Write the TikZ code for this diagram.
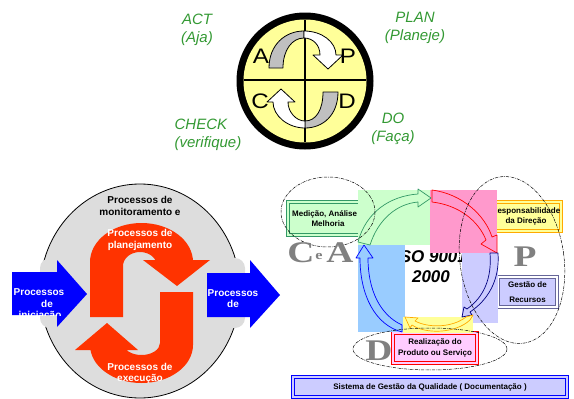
\documentclass[tikz,border=0pt]{standalone}
\usepackage{fontspec}
\setmainfont{Liberation Serif}
\setsansfont{Liberation Sans}
\usepackage{tikz}
\usetikzlibrary{positioning}
\definecolor{wheelyellow}{HTML}{FFFF99}
\definecolor{ribbongray}{HTML}{C0C0C0}
\definecolor{phasegreen}{HTML}{339933}
\definecolor{monigray}{HTML}{DDDDDD}
\definecolor{cyclered}{HTML}{FF3300}
\definecolor{procblue}{HTML}{0000FF}
\definecolor{isogreen}{HTML}{CCFFCC}
\definecolor{isopink}{HTML}{FF99CC}
\definecolor{isoblue}{HTML}{99CCFF}
\definecolor{isolav}{HTML}{CCCCFF}
\definecolor{isoyellow}{HTML}{FFFF99}
\definecolor{boxpink}{HTML}{FFCCFF}
\definecolor{lettergray}{HTML}{808080}
\definecolor{linegreen}{HTML}{339966}
\definecolor{linenavy}{HTML}{000080}
\definecolor{lineorange}{HTML}{FFAA00}
\definecolor{linepurple}{HTML}{666699}
\tikzset{
  phaselbl/.style={text=phasegreen, font=\sffamily\itshape\fontsize{15}{18}\selectfont, align=center, inner sep=0pt},
  wheelletter/.style={font=\sffamily\fontsize{21}{21}\selectfont, inner sep=0pt, xscale=1.15},
  ribbon/.style={draw=black, line width=0.8pt, line join=round},
  proctext/.style={text=white, font=\sffamily\bfseries\fontsize{10}{12}\selectfont, inner sep=0pt},
  isobox/.style={font=\sffamily\bfseries\fontsize{8}{10.5}\selectfont, align=center, inner sep=1pt, line width=1pt, double distance=1.5pt},
  isoarrow/.style={line width=0.7pt, line join=round},
  qletter/.style={text=lettergray, font=\rmfamily\bfseries\fontsize{30}{30}\selectfont, inner sep=0pt, xscale=1.25},
  dashdot/.style={line width=0.5pt, dash pattern=on 3pt off 1pt on 0.6pt off 1pt},
}

\begin{document}
\begin{tikzpicture}[x=1pt, y=-1pt]
  \useasboundingbox (0,0) rectangle (574,399);

  % PDCA wheel
  \fill[black] (305,81) circle[radius=68.5];
  \fill[wheelyellow] (305,81) circle[radius=61.5];
  \draw[line width=1.2pt] (305,20) -- (305,142) (244,80) -- (366,80);

  % ribbons of the wheel
  \filldraw[ribbon, fill=ribbongray] (269,68) .. controls (269,45) and (285,31) .. (304,31)
    -- (304,38) .. controls (292,38) and (283,50) .. (283,68) -- cycle;
  \filldraw[ribbon, fill=white] (304,31) .. controls (322,31) and (336,42) .. (336,55)
    -- (343,55) -- (328,69) -- (313,55) -- (320,55) .. controls (320,45) and (313,38) .. (304,38) -- cycle;
  \filldraw[ribbon, fill=ribbongray] (338,92) .. controls (338,115) and (323,128) .. (305,128)
    -- (305,121) .. controls (316,121) and (323,110) .. (323,92) -- cycle;
  \filldraw[ribbon, fill=white] (305,128) .. controls (288,128) and (273,116) .. (273,102)
    -- (267,102) -- (281,89) -- (295,102) -- (288,102) .. controls (288,112) and (296,121) .. (305,121) -- cycle;

  \node[wheelletter] (la) at (261,56) {A};
  \node[wheelletter] (lp) at (348,56) {P};
  \node[wheelletter] (lc) at (260,101) {C};
  \node[wheelletter] (ld) at (347,101) {D};

  % phase labels
  \node[phaselbl] (act) at (197,30) {ACT\\(Aja)};
  \node[phaselbl] (plan) at (415,28) {PLAN\\(Planeje)};
  \node[phaselbl, align=left] (check) at (208,135) {CHECK\\(verifique)};
  \node[phaselbl] (do) at (393,129) {DO\\(Faça)};

  % process groups
  \draw[fill=monigray, line width=0.8pt] (140,291) ellipse[x radius=100, y radius=107];
  \fill[monigray, rounded corners=10] (40,258) rectangle (75,328);
  \fill[monigray, rounded corners=10] (212,258) rectangle (245,328);

  \fill[cyclered] (90,317) -- (90,262) arc[start angle=180, end angle=360, x radius=51.5, y radius=39]
    -- (193,260) -- (210,260) -- (177,286) -- (143,260) -- (157,260) -- (157,266)
    arc[start angle=0, end angle=-180, x radius=17, y radius=14] -- (123,317) -- cycle;
  \fill[cyclered] (160,292) -- (193,292) -- (193,345) arc[start angle=0, end angle=180, x radius=51.5, y radius=38]
    -- (90,350) -- (75,350) -- (107,323) -- (138,350) -- (123,350) -- (123,343)
    arc[start angle=180, end angle=0, x radius=18.5, y radius=12] -- cycle;

  \fill[procblue] (12,272) -- (57,272) -- (57,260) -- (87,294) -- (57,327) -- (57,315) -- (12,315) -- cycle;
  \fill[procblue] (207,273) -- (250,273) -- (250,260) -- (280,295) -- (250,328) -- (250,317) -- (207,317) -- cycle;

  \node[proctext, text=black] (moni) at (140,200) {Processos de};
  \node[proctext, text=black] (moni2) at (140,212) {monitoramento e};
  \node[proctext] (plano) at (140,233) {Processos de};
  \node[proctext] (plano2) at (140,246) {planejamento};
  \begin{scope}
    \clip (60,355) rectangle (220,384);
    \node[proctext] (exec) at (140,367) {Processos de};
    \node[proctext] (exec2) at (140,379) {execução};
  \end{scope}
  \begin{scope}
    \clip (10,280) rectangle (90,315);
    \node[proctext] (ini) at (39,292) {Processos};
    \node[proctext] (ini2) at (47,304) {de};
    \node[proctext] (ini3) at (40,316) {iniciação};
  \end{scope}
  \node[proctext] (enc) at (233,293) {Processos};
  \node[proctext] (enc2) at (233,304) {de};

  % ISO 9001 model
  \node[isobox, draw=linegreen, double=isogreen, fill=isogreen, minimum width=80, minimum height=33] (medicao) at (328,218.5) {Medição, Análise e\\Melhoria};
  \node[isobox, draw=lineorange, double=isoyellow, fill=isoyellow, minimum width=69, minimum height=29] (resp) at (526,216.5) {Responsabilidade\\da Direção};
  \node[isobox, draw=linepurple, fill=isolav, minimum width=59, minimum height=30, font=\sffamily\bfseries\fontsize{8}{15}\selectfont] (gestao) at (527.5,292) {Gestão de\\Recursos};
  \node[isobox, draw=red, double=boxpink, fill=boxpink, minimum width=84, minimum height=30] (realiz) at (435,348) {Realização do\\Produto ou Serviço};
  \node[isobox, draw=procblue, double=isolav, fill=isolav, minimum width=274, minimum height=20] (sistema) at (430,387) {Sistema de Gestão da Qualidade ( Documentação )};

  \node[font=\sffamily\bfseries\itshape\fontsize{17}{20}\selectfont, align=center, inner sep=0pt] (iso) at (431,267) {ISO 9001\\2000};

  \fill[isogreen] (358,190) rectangle (430,245);
  \fill[isopink] (430,190) rectangle (497,253);
  \fill[isoblue] (358,245) rectangle (405,332);
  \fill[isolav] (462,253) rectangle (498,323);
  \fill[isoyellow] (403,317) rectangle (473,333);

  % cycle arrows
  \filldraw[isoarrow, draw=linegreen, fill=isogreen] (358,242) .. controls (366,212) and (390,196) .. (418,194)
    -- (418,189) -- (431,198) -- (418,207) -- (418,202) .. controls (396,204) and (378,220) .. (370,245) -- cycle;
  \filldraw[isoarrow, draw=red, fill=isopink] (432,190) .. controls (462,194) and (485,215) .. (492,237)
    -- (497,235) -- (497,253) -- (481,244) -- (486,240) .. controls (478,220) and (458,205) .. (432,202) -- cycle;
  \filldraw[isoarrow, draw=linenavy, fill=isolav] (490,253) .. controls (492,278) and (484,297) .. (467,309)
    -- (464,307) -- (462,317) -- (472,315) -- (470,312) .. controls (488,300) and (500,280) .. (498,253) -- cycle;
  \filldraw[isoarrow, draw=lineorange, fill=isoyellow] (470,320) .. controls (455,334) and (425,334) .. (412,325)
    -- (410,328) -- (405,317) -- (418,318) -- (415,321) .. controls (428,328) and (452,328) .. (466,317) -- (473,315) -- cycle;
  \filldraw[isoarrow, draw=procblue, fill=isoblue] (402,332) .. controls (375,325) and (360,295) .. (360,258)
    -- (356,258) -- (364,245) -- (373,258) -- (368,258) .. controls (368,290) and (380,315) .. (402,325) -- cycle;

  % groupings
  \draw[dashdot] (328,212) ellipse[x radius=47, y radius=35];
  \draw[dashdot, rotate around={8:(512,260)}] (512,260) ellipse[x radius=52, y radius=84];
  \draw[dashdot] (430,349) ellipse[x radius=77, y radius=21];

  \node[qletter] (qc) at (301,253) {C};
  \node[qletter, font=\rmfamily\bfseries\fontsize{13}{13}\selectfont] (qe) at (319,257) {e};
  \node[qletter] (qa) at (340,253) {A};
  \node[qletter] (qp) at (525,257) {P};
  \node[qletter] (qd) at (379,351) {D};
\end{tikzpicture}
\end{document}
